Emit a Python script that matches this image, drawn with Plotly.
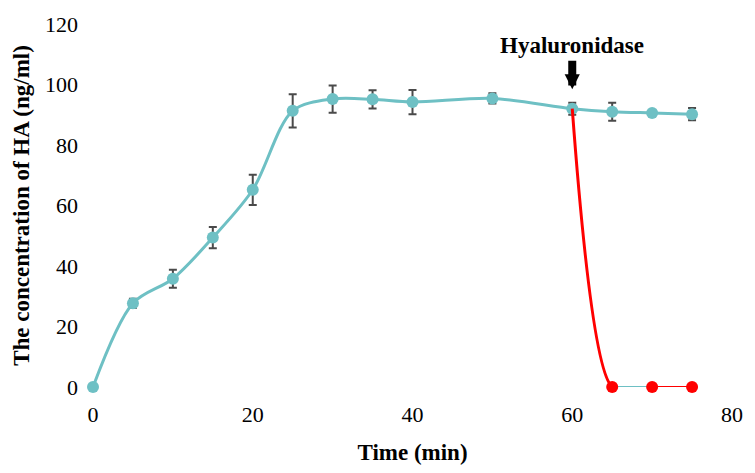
import plotly.graph_objects as go

time = [0, 5, 10, 15, 20, 25, 30, 35, 40, 50, 60, 65, 70, 75]
ha = [0, 27.7, 35.8, 49.4, 65.2, 91.3, 95.2, 95.1, 94.2, 95.4, 92.0, 91.0, 90.6, 90.2]
ha_err = [0, 1.5, 3.0, 3.5, 5.0, 5.5, 4.5, 3.0, 4.0, 1.7, 2.0, 3.0, 1.0, 2.0]

enz_time = [60, 65, 70, 75]
enz_ha = [92.0, 0, 0, 0]

teal = "#6EC0C4"
red = "#FF0000"
serif = "Liberation Serif, Times New Roman, serif"

fig = go.Figure()
fig.add_trace(go.Scatter(
    x=time, y=ha, mode="lines+markers",
    line=dict(color=teal, width=3, shape="spline", smoothing=0.9),
    marker=dict(color=teal, size=12, symbol="circle"),
    error_y=dict(type="data", array=ha_err, color="#4a4a4a", thickness=2, width=4),
    cliponaxis=False, showlegend=False))
# red drop after enzyme
fig.add_trace(go.Scatter(
    x=enz_time[:3], y=enz_ha[:3], mode="lines",
    line=dict(color=red, width=3, shape="spline", smoothing=0.7),
    cliponaxis=False, showlegend=False))
fig.add_trace(go.Scatter(
    x=enz_time[1:3], y=enz_ha[1:3], mode="lines",
    line=dict(color=teal, width=2),
    cliponaxis=False, showlegend=False))
fig.add_trace(go.Scatter(
    x=enz_time[2:], y=enz_ha[2:], mode="lines",
    line=dict(color=red, width=2),
    cliponaxis=False, showlegend=False))
fig.add_trace(go.Scatter(
    x=enz_time[1:], y=enz_ha[1:], mode="markers",
    marker=dict(color=red, size=12),
    cliponaxis=False, showlegend=False))

fig.add_annotation(x=60, y=98.4, xref="x", yref="y", text="", showarrow=True,
                   ax=0, ay=-30, arrowhead=2, arrowsize=0.38, arrowwidth=8, arrowcolor="black")
fig.add_annotation(x=60, y=113, xref="x", yref="y", text="<b>Hyaluronidase</b>",
                   showarrow=False, font=dict(family=serif, size=23, color="black"))

fig.update_layout(
    width=755, height=473,
    margin=dict(l=93, r=15, t=15, b=86),
    plot_bgcolor="white", paper_bgcolor="white",
    font=dict(family=serif, size=22, color="black"),
    xaxis=dict(range=[0, 80], dtick=20, showgrid=False, zeroline=False, showline=False,
               ticks="", ticklabelstandoff=12,
               title=dict(text="<b>Time (min)</b>", font=dict(size=23), standoff=17)),
    yaxis=dict(range=[0, 120], dtick=20, showgrid=False, zeroline=False, showline=False,
               ticks="", ticklabelstandoff=14,
               title=dict(text="<b>The concentration of HA (ng/ml)</b>", font=dict(size=23), standoff=8)),
)

fig.write_html("out.html")
